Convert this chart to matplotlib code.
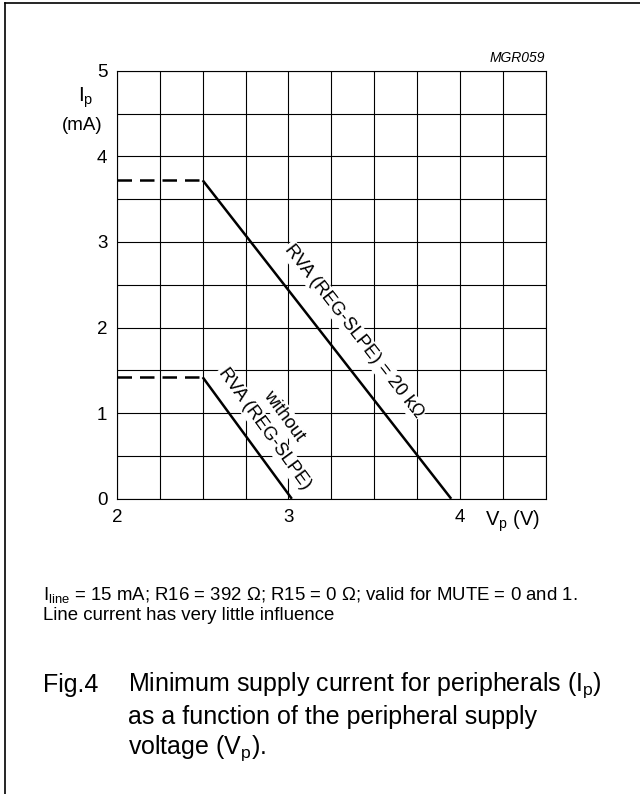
import numpy as np
import matplotlib
matplotlib.use("Agg")
import matplotlib.pyplot as plt
from matplotlib.lines import Line2D

plt.rcParams["font.family"] = ["Liberation Sans", "DejaVu Sans"]
plt.rcParams["mathtext.default"] = "regular"

# Datos
vp_20k = [2.5, 3.95]
ip_20k = [3.72, 0.0]
vp_20k_dash = [2.0, 2.5]
ip_20k_dash = [3.72, 3.72]

vp_wo = [2.5, 3.02]
ip_wo = [1.42, 0.0]
vp_wo_dash = [2.0, 2.5]
ip_wo_dash = [1.42, 1.42]

x_ticks = [2, 3, 4]
y_ticks = [0, 1, 2, 3, 4, 5]

W, H = 640, 794
fig = plt.figure(figsize=(W / 100, H / 100), dpi=100)
ax = fig.add_axes([117 / W, 1 - 498.8 / H, 428.5 / W, 428.1 / H])

ax.set_xlim(2, 4.5)
ax.set_ylim(0, 5)
ax.set_xticks(x_ticks)
ax.set_yticks(y_ticks)
ax.set_xticks(np.arange(2, 4.51, 0.25), minor=True)
ax.set_yticks(np.arange(0, 5.01, 0.5), minor=True)
ax.grid(which="both", color="black", linewidth=0.8)
ax.tick_params(which="both", length=0, labelsize=13.5)
ax.tick_params(axis="x", pad=7)
ax.tick_params(axis="y", pad=7)
for s in ax.spines.values():
    s.set_linewidth(0.8)

dash = (0, (5.8, 3.2))
ax.plot(vp_20k, ip_20k, color="black", lw=1.8, solid_capstyle="butt", zorder=3)
ax.plot(vp_20k_dash, ip_20k_dash, color="black", lw=1.8, linestyle=dash, zorder=3)
ax.plot(vp_wo, ip_wo, color="black", lw=1.8, solid_capstyle="butt", zorder=3)
ax.plot(vp_wo_dash, ip_wo_dash, color="black", lw=1.8, linestyle=dash, zorder=3)

# textos sobre las rectas (fondo blanco tapa la rejilla, no las rectas)
box = dict(facecolor="white", edgecolor="none", pad=1)
ax.text(3.38, 1.96, "RVA (REG-SLPE) = 20 k\u03a9", rotation=-52, rotation_mode="anchor",
        ha="center", va="center", fontsize=13.2, bbox=box, zorder=2.5)
ax.text(2.86, 0.82, "RVA (REG-SLPE)", rotation=-54, rotation_mode="anchor",
        ha="center", va="center", fontsize=13.2, bbox=box, zorder=2.5)
ax.text(2.975, 0.97, "without", rotation=-54, rotation_mode="anchor",
        ha="center", va="center", fontsize=13.2, bbox=box, zorder=2.5)

# etiquetas de ejes
fig.text(86 / W, 1 - 98 / H, "I$_p$", fontsize=15, ha="center", va="center")
fig.text(82 / W, 1 - 125 / H, "(mA)", fontsize=13.5, ha="center", va="center")
fig.text(485 / W, 1 - 521 / H, "V$_p$ (V)", fontsize=14.5, ha="left", va="center")
fig.text(545 / W, 1 - 58 / H, "MGR059", fontsize=10, style="italic", ha="right", va="center")

# notas
fig.text(43 / W, 1 - 595 / H, "I$_{line}$ = 15 mA; R16 = 392 \u03a9; R15 = 0 \u03a9; valid for MUTE = 0 and 1.",
         fontsize=13.4, ha="left", va="center")
fig.text(43 / W, 1 - 615 / H, "Line current has very little influence",
         fontsize=13.4, ha="left", va="center")

fig.text(43 / W, 1 - 685 / H, "Fig.4", fontsize=18, ha="left", va="center")
fig.text(128 / W, 1 - 685 / H, "Minimum supply current for peripherals (I$_p$)", fontsize=18, ha="left", va="center")
fig.text(128 / W, 1 - 717 / H, "as a function of the peripheral supply", fontsize=18, ha="left", va="center")
fig.text(128 / W, 1 - 748 / H, "voltage (V$_p$).", fontsize=18, ha="left", va="center")

# marco
fig.add_artist(Line2D([5 / W, 1], [1 - 3 / H, 1 - 3 / H], color="black", lw=1.2))
fig.add_artist(Line2D([5 / W, 5 / W], [0, 1 - 3 / H], color="black", lw=1.2))

fig.savefig("out.png", dpi=100)
